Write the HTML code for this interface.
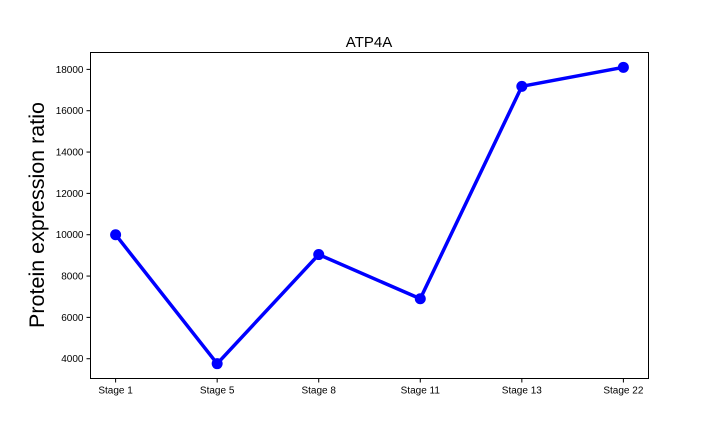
<!DOCTYPE html>
<html>
<head>
<meta charset="utf-8">
<style>
  html,body{margin:0;padding:0;background:#fff;}
  svg{display:block;font-family:"Liberation Sans","DejaVu Sans",sans-serif;}
</style>
</head>
<body>
<svg id="chart" width="720" height="432" viewBox="0 0 720 432">
  <text x="369" y="47" font-size="15" text-anchor="middle" fill="#000">ATP4A</text>
  <text transform="translate(44,215) rotate(-90)" font-size="21.5" text-anchor="middle" fill="#000">Protein expression ratio</text>
  <g id="yticks"></g>
  <g id="xticks"></g>
  <g id="series"></g>
  <rect x="90.5" y="52.5" width="558" height="326" fill="none" stroke="#000" stroke-width="1"/>
</svg>
<script>
const categories = ["Stage 1","Stage 5","Stage 8","Stage 11","Stage 13","Stage 22"];
const values = [10000, 3760, 9040, 6900, 17180, 18100];
const yTicks = [4000, 6000, 8000, 10000, 12000, 14000, 16000, 18000];

const NS = "http://www.w3.org/2000/svg";
const L = 90.5, R = 648.5, T = 52.5, B = 378.5;
const vmin = Math.min(...values), vmax = Math.max(...values);
const pad = (vmax - vmin) * 0.05;
const y0 = vmin - pad, y1 = vmax + pad;
function yScale(v){ return B - (v - y0) / (y1 - y0) * (B - T); }
const xPad = (R - L) * 0.045;
function xScale(i){ return L + xPad + i * ((R - L - 2 * xPad) / (categories.length - 1)); }
function mk(tag, attrs, parent){
  const e = document.createElementNS(NS, tag);
  for (const k in attrs) e.setAttribute(k, attrs[k]);
  parent.appendChild(e);
  return e;
}
const yg = document.getElementById("yticks");
yTicks.forEach(v => {
  const y = yScale(v);
  const t = mk("line", {x1: L - 4, x2: L, y1: y, y2: y, stroke: "#000", "stroke-width": 1}, yg);
  
  
  const tx = mk("text", {x: L - 7, y: y + 3.5, "font-size": 10, "text-anchor": "end", fill: "#000"}, yg);
  tx.textContent = v;
  
  
});
const xg = document.getElementById("xticks");
categories.forEach((c, i) => {
  const x = xScale(i);
  const t = mk("line", {x1: x, x2: x, y1: B, y2: B + 4, stroke: "#000", "stroke-width": 1}, xg);
  
  
  const tx = mk("text", {x: x, y: B + 15, "font-size": 10, "text-anchor": "middle", fill: "#000"}, xg);
  tx.textContent = c;
  
  
});
const sg = document.getElementById("series");
const pts = values.map((v, i) => xScale(i) + "," + yScale(v)).join(" ");
const line = mk("polyline", {points: pts, fill: "none", stroke: "#0000ff", "stroke-width": 3.5, "stroke-linejoin": "round"}, sg);


values.forEach((v, i) => {
  const c = mk("circle", {cx: xScale(i), cy: yScale(v), r: 5.5, fill: "#0000ff"}, sg);
  
  
});
</script>
</body>
</html>
